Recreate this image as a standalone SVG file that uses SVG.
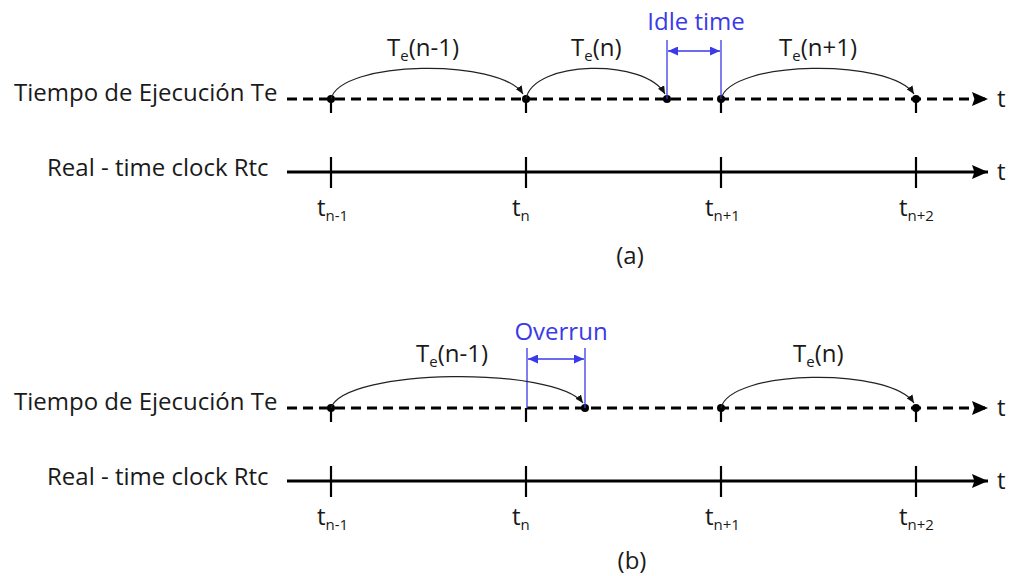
<svg xmlns="http://www.w3.org/2000/svg" width="1013" height="576" viewBox="0 0 1013 576">
<defs>
<marker id="ah" viewBox="0 0 10 10" refX="10" refY="5" markerWidth="8" markerHeight="7" markerUnits="userSpaceOnUse" orient="auto" preserveAspectRatio="none"><path d="M0,0 L10,5 L0,10 z" fill="#111"/></marker>
<marker id="big" viewBox="0 0 10 10" refX="10" refY="5" markerWidth="16" markerHeight="14" markerUnits="userSpaceOnUse" orient="auto" preserveAspectRatio="none"><path d="M0,0 L10,5 L0,10 L1.5,5 z" fill="#000"/></marker>
<marker id="bh" viewBox="0 0 10 10" refX="10" refY="5" markerWidth="10" markerHeight="9" markerUnits="userSpaceOnUse" orient="auto-start-reverse" preserveAspectRatio="none"><path d="M0,0 L10,5 L0,10 z" fill="#3a3ae8"/></marker>
</defs>
<style>
text{font-family:"Open Sans","Liberation Sans",sans-serif;fill:#1a1a1a}
.lbl{font-size:24px}
.sub{font-size:15px}
.blue{fill:#3a3ae8;font-size:24px}
.dash{stroke:#000;stroke-width:3;stroke-dasharray:10,6;fill:none}
.solid{stroke:#000;stroke-width:3;fill:none}
.tick{stroke:#000;stroke-width:2.2}
.arc{stroke:#222;stroke-width:1.2;fill:none}
.bl{stroke:#3a3ae8;stroke-width:1.3;fill:none}
</style>
<rect width="1013" height="576" fill="#fff"/>

<g id="panel-a">
<g id="row-te-a">
<text class="lbl" x="14" y="101">Tiempo de Ejecución Te</text>
<line class="dash" x1="287" y1="99" x2="988" y2="99" marker-end="url(#big)"/>
<text class="lbl" x="997" y="107">t</text>
</g>
<g id="row-rtc-a">
<text class="lbl" x="47" y="176">Real - time clock Rtc</text>
<line class="solid" x1="287" y1="172" x2="988" y2="172" marker-end="url(#big)"/>
<text class="lbl" x="997" y="180">t</text>
<line class="tick" x1="331" y1="157" x2="331" y2="188"/>
<line class="tick" x1="526" y1="157" x2="526" y2="188"/>
<line class="tick" x1="721" y1="157" x2="721" y2="188"/>
<line class="tick" x1="916" y1="157" x2="916" y2="188"/>
<text class="lbl" x="317" y="216">t<tspan class="sub" dy="5">n-1</tspan></text>
<text class="lbl" x="512" y="216">t<tspan class="sub" dy="5">n</tspan></text>
<text class="lbl" x="705" y="216">t<tspan class="sub" dy="5">n+1</tspan></text>
<text class="lbl" x="899" y="216">t<tspan class="sub" dy="5">n+2</tspan></text>
</g>
<g id="ticks-a">
<line class="tick" x1="331" y1="99" x2="331" y2="113"/>
<line class="tick" x1="526" y1="99" x2="526" y2="113"/>
<line class="tick" x1="721" y1="99" x2="721" y2="113"/>
<line class="tick" x1="916" y1="99" x2="916" y2="113"/>
<circle cx="331" cy="99" r="4"/>
<circle cx="526" cy="99" r="4"/>
<circle cx="667" cy="99" r="4"/>
<circle cx="721" cy="99" r="4"/>
<circle cx="916" cy="99" r="4"/>
</g>
<g id="idle">
<line class="bl" x1="667" y1="40" x2="667" y2="99"/>
<line class="bl" x1="721" y1="40" x2="721" y2="99"/>
<line class="bl" x1="668" y1="51" x2="720" y2="51" marker-start="url(#bh)" marker-end="url(#bh)"/>
<text class="blue" x="696" y="30" text-anchor="middle">Idle time</text>
</g>
<g id="labels-a">
<text class="lbl" x="387" y="56">T<tspan class="sub" dy="5">e</tspan><tspan dy="-5">(n-1)</tspan></text>
<text class="lbl" x="571" y="56">T<tspan class="sub" dy="5">e</tspan><tspan dy="-5">(n)</tspan></text>
<text class="lbl" x="779" y="56">T<tspan class="sub" dy="5">e</tspan><tspan dy="-5">(n+1)</tspan></text>
</g>
<text class="lbl" x="630" y="264" text-anchor="middle">(a)</text>
</g>

<g id="panel-b">
<g id="row-te-b">
<text class="lbl" x="14" y="410">Tiempo de Ejecución Te</text>
<line class="dash" x1="287" y1="408" x2="988" y2="408" marker-end="url(#big)"/>
<text class="lbl" x="997" y="416">t</text>
</g>
<g id="row-rtc-b">
<text class="lbl" x="47" y="485">Real - time clock Rtc</text>
<line class="solid" x1="287" y1="481" x2="988" y2="481" marker-end="url(#big)"/>
<text class="lbl" x="997" y="489">t</text>
<line class="tick" x1="331" y1="466" x2="331" y2="497"/>
<line class="tick" x1="526" y1="466" x2="526" y2="497"/>
<line class="tick" x1="721" y1="466" x2="721" y2="497"/>
<line class="tick" x1="916" y1="466" x2="916" y2="497"/>
<text class="lbl" x="317" y="525">t<tspan class="sub" dy="5">n-1</tspan></text>
<text class="lbl" x="512" y="525">t<tspan class="sub" dy="5">n</tspan></text>
<text class="lbl" x="705" y="525">t<tspan class="sub" dy="5">n+1</tspan></text>
<text class="lbl" x="899" y="525">t<tspan class="sub" dy="5">n+2</tspan></text>
</g>
<g id="ticks-b">
<line class="tick" x1="331" y1="408" x2="331" y2="422"/>
<line class="tick" x1="526" y1="408" x2="526" y2="422"/>
<line class="tick" x1="721" y1="408" x2="721" y2="422"/>
<line class="tick" x1="916" y1="408" x2="916" y2="422"/>
<circle cx="331" cy="408" r="4"/>
<circle cx="585" cy="408" r="4"/>
<circle cx="721" cy="408" r="4"/>
<circle cx="916" cy="408" r="4"/>
</g>
<g id="overrun">
<line class="bl" x1="527" y1="348" x2="527" y2="408"/>
<line class="bl" x1="585" y1="348" x2="585" y2="408"/>
<line class="bl" x1="528" y1="359" x2="584" y2="359" marker-start="url(#bh)" marker-end="url(#bh)"/>
<text class="blue" x="561" y="340" text-anchor="middle">Overrun</text>
</g>
<g id="labels-b">
<text class="lbl" x="416" y="362">T<tspan class="sub" dy="5">e</tspan><tspan dy="-5">(n-1)</tspan></text>
<text class="lbl" x="793" y="362">T<tspan class="sub" dy="5">e</tspan><tspan dy="-5">(n)</tspan></text>
</g>
<text class="lbl" x="632" y="569" text-anchor="middle">(b)</text>
</g>

<g id="connectors">
<path class="arc" d="M331,99 C340,60 500,58 523,94" marker-end="url(#ah)"/>
<path class="arc" d="M526,99 C533,60 645,58 665,94" marker-end="url(#ah)"/>
<path class="arc" d="M721,99 C730,60 890,58 914,94" marker-end="url(#ah)"/>
<path class="arc" d="M331,408 C345,368 555,366 583,403" marker-end="url(#ah)"/>
<path class="arc" d="M721,408 C730,369 890,367 914,403" marker-end="url(#ah)"/>
</g>
</svg>
